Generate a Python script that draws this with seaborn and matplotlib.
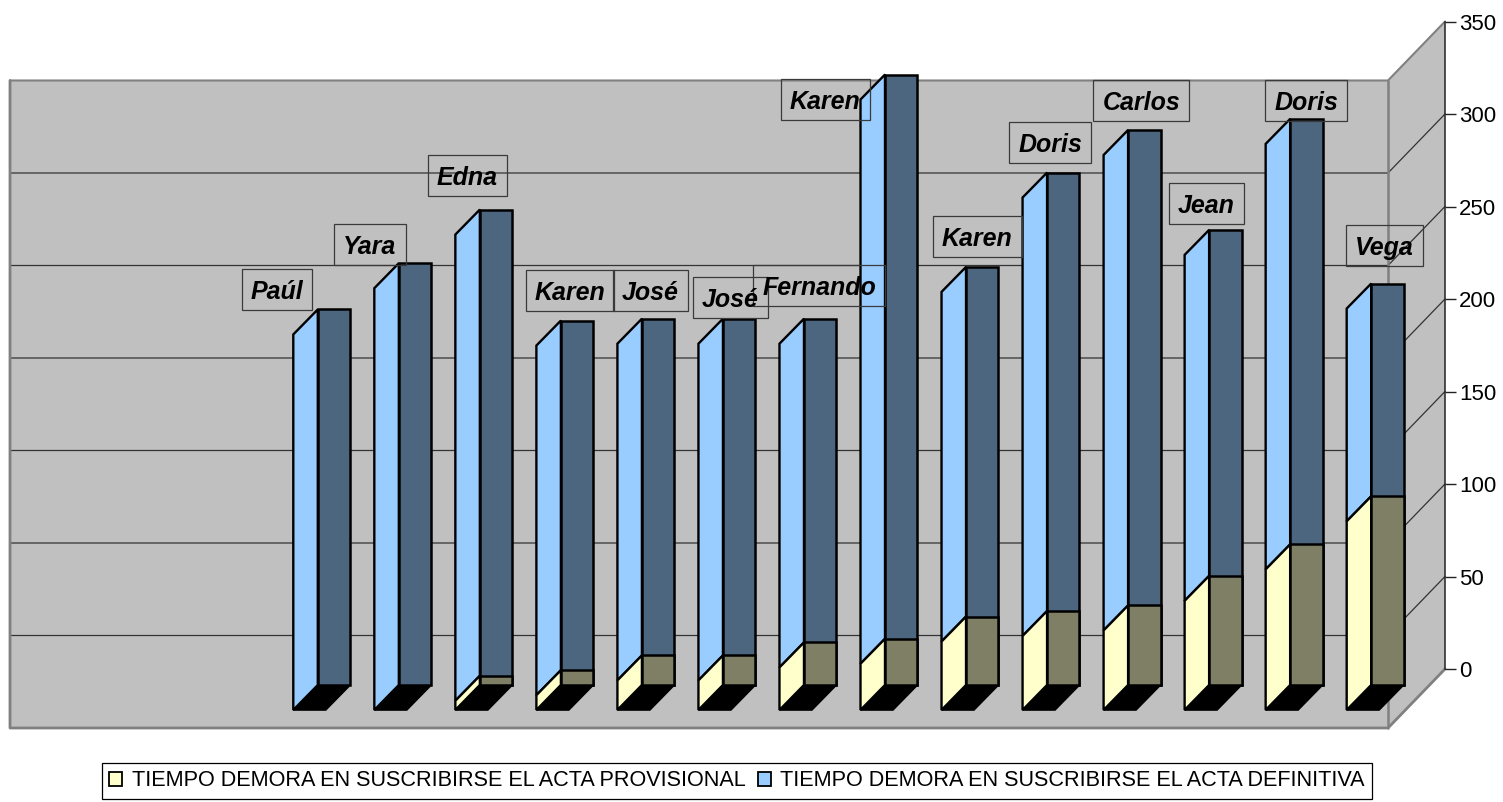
import matplotlib
matplotlib.use("Agg")
import matplotlib.pyplot as plt
from matplotlib.patches import Patch, Rectangle
import numpy as np
import pandas as pd
import seaborn as sns

# ---- data ----
names = ["Paúl", "Yara", "Edna", "Karen", "José", "José", "Fernando",
         "Karen", "Karen", "Doris", "Carlos", "Jean", "Doris", "Vega"]
provisional = [0, 0, 5, 8, 16, 16, 23, 25, 37, 40, 43, 59, 76, 102]
definitive = [203, 228, 252, 189, 182, 182, 175, 305, 189, 237, 257, 187, 230, 115]
series_labels = ["TIEMPO DEMORA EN SUSCRIBIRSE EL ACTA PROVISIONAL",
                 "TIEMPO DEMORA EN SUSCRIBIRSE EL ACTA DEFINITIVA"]
value_ticks = [0, 50, 100, 150, 200, 250, 300, 350]

# ---- styling / layout ----
W, H = 1503, 802
BAR0, STEP = 334.0, 81.03     # px of first bar centre, px between bars
BASE, PPU = 685.0, 1.85       # px of bar baseline, px per unit
BAR_W = 0.40
DX, DY = 24.5, 25.0           # depth of the bar side, px
WALL0 = 728.0                 # px of value 0 on the front wall
WL, WR, AX_X, AX0 = 10.0, 1388.0, 1445.0, 669.0
GRAY, EDGE = "#C0C0C0", "#808080"
DARK_BLUE, OLIVE, LIGHT_BLUE, YELLOW = "#4D6680", "#7F7F65", "#99CCFF", "#FFFFCC"
label_dx = [-57, -45, -29, -7, -8, -9, -1, -76, -5, -13, -3, -19, 0, -3]
label_dy = [20, 19, 34, 30, 28, 21, 33, -25, 30, 30, 30, 26, 18, 38]

sns.set_theme(style="white")
plt.rcParams["font.family"] = ["Liberation Sans", "DejaVu Sans"]
plt.rcParams["text.color"] = "black"

df = pd.DataFrame({"pos": np.arange(len(names)), "name": names,
                   "provisional": provisional, "definitive": definitive})
df["total"] = df["provisional"] + df["definitive"]

fig = plt.figure(figsize=(W / 100, H / 100), dpi=100)
fig.patch.set_facecolor("white")
ax = fig.add_axes([0, 0, 1, 1])


def X(px):
    return (px - BAR0) / STEP


def Y(py):
    return (BASE - py) / PPU


# walls
ax.fill([X(p) for p in (WL, WR, AX_X, AX_X, WR, WL)],
        [Y(p) for p in (80, 80, 22, AX0, WALL0, WALL0)],
        color=GRAY, lw=0, zorder=1)
wall_offset = Y(WALL0)
axis_offset = Y(AX0)
for v in value_ticks[1:-1]:
    ax.plot([X(WL), X(WR), X(AX_X)],
            [v + wall_offset, v + wall_offset, v + axis_offset],
            color="#333333", lw=0.9, zorder=2)
ax.plot([X(AX_X), X(WR), X(WL)],
        [350 + axis_offset, 350 + wall_offset, 350 + wall_offset],
        color=EDGE, lw=1.5, zorder=2)
ax.plot([X(WR), X(WR)], [wall_offset, 350 + wall_offset], color=EDGE, lw=1.8, zorder=2)
ax.plot([X(WL), X(WL), X(WR), X(AX_X)],
        [350 + wall_offset, wall_offset, wall_offset, axis_offset],
        color=EDGE, lw=2.0, zorder=2)

# bars: the side and floor of each bar, in front of them the seaborn bars
dx, dy = DX / STEP, DY / PPU
for i, row in df.iterrows():
    x0 = row["pos"] - BAR_W / 2
    x1 = row["pos"] + BAR_W / 2
    ax.fill([x0, x1, x1 - dx, x0 - dx], [0, 0, -dy, -dy],
            facecolor="black", edgecolor="black", lw=1.2, zorder=3)
    ax.fill([x0, x0, x0 - dx, x0 - dx],
            [row["provisional"], row["total"], row["total"] - dy, row["provisional"] - dy],
            facecolor=LIGHT_BLUE, edgecolor="black", lw=1.7, zorder=3, joinstyle="miter")
    if row["provisional"] > 0:
        ax.fill([x0, x0, x0 - dx, x0 - dx],
                [0, row["provisional"], row["provisional"] - dy, -dy],
                facecolor=YELLOW, edgecolor="black", lw=1.7, zorder=3, joinstyle="miter")

sns.barplot(data=df, x="pos", y="total", native_scale=True, width=BAR_W,
            color=DARK_BLUE, saturation=1, edgecolor="black", linewidth=1.8,
            ax=ax, zorder=4)
sns.barplot(data=df[df["provisional"] > 0], x="pos", y="provisional", native_scale=True,
            width=BAR_W, color=OLIVE, saturation=1, edgecolor="black", linewidth=1.8,
            ax=ax, zorder=5)

ax.set_xlim(X(0), X(W))
ax.set_ylim(Y(H), Y(0))
ax.axis("off")

# data labels with their boxes
fig.canvas.draw()
renderer = fig.canvas.get_renderer()
for i, row in df.iterrows():
    t = ax.annotate(row["name"], xy=(row["pos"], row["total"]),
                    xytext=(label_dx[i], label_dy[i]), textcoords="offset pixels",
                    ha="center", va="center_baseline", fontsize=18, fontweight="bold",
                    fontstyle="italic", color="black", zorder=7)
    ext = t.get_window_extent(renderer)
    cx = row["pos"] * STEP + BAR0 + label_dx[i]
    cy = BASE - row["total"] * PPU - label_dy[i]
    bw = ext.width + 18
    ax.add_patch(Rectangle((X(cx - bw / 2), Y(cy + 20.5)), bw / STEP, 41 / PPU,
                           fc="none", ec="#3A3A3A", lw=0.9, zorder=6))

# value axis on the right
vax = fig.add_axes([AX_X / W, 1 - AX0 / H, 0.0001, (AX0 - 22) / H])
vax.patch.set_visible(False)
vax.set_ylim(0, 350)
vax.set_xticks([])
vax.set_yticks(value_ticks)
vax.yaxis.tick_right()
vax.tick_params(axis="y", length=8, width=1, color="#222222", labelsize=16, pad=2,
                labelcolor="black", right=True)
for side in ("left", "top", "bottom"):
    vax.spines[side].set_visible(False)
vax.spines["right"].set_color("#222222")
vax.spines["right"].set_linewidth(1.1)

# legend
handles = [Patch(facecolor=YELLOW, edgecolor="black", lw=1.3, label=series_labels[0]),
           Patch(facecolor=LIGHT_BLUE, edgecolor="black", lw=1.3, label=series_labels[1])]
leg = ax.legend(handles=handles, ncols=2, loc="center",
                bbox_to_anchor=(737 / W, 1 - 781 / H), bbox_transform=fig.transFigure,
                fontsize=15.6, frameon=True, fancybox=False, framealpha=1,
                edgecolor="black", facecolor="white", handlelength=0.6, handleheight=0.6,
                handletextpad=0.45, columnspacing=0.55, borderpad=0.35, borderaxespad=0,
                labelcolor="black")
leg.get_frame().set_linewidth(0.9)
leg.set_zorder(8)

fig.savefig("out.png", dpi=100)
